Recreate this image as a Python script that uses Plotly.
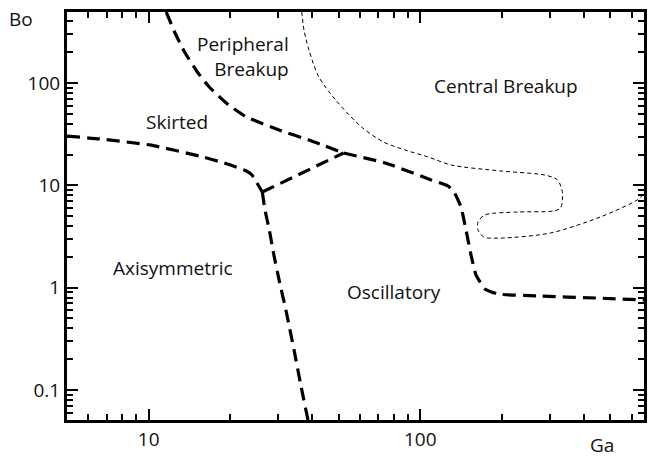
import math
import plotly.graph_objects as go

# Regime boundaries (Ga, Bo)
skirt_axi_ga = [5.0, 6.6, 10.1, 15.4, 19.0, 22.9, 24.0, 26.2]
skirt_axi_bo = [30.3, 28.4, 24.8, 19.3, 16.5, 13.8, 12.6, 8.6]

axi_osc_ga = [26.2, 26.8, 27.8, 28.9, 30.2, 32.0, 34.3, 36.3, 38.6]
axi_osc_bo = [8.6, 5.74, 3.66, 2.08, 1.19, 0.604, 0.245, 0.112, 0.0508]

skirt_osc_ga = [26.2, 52.2]
skirt_osc_bo = [8.6, 20.7]

periph_skirt_ga = [11.6, 12.45, 13.55, 15.1, 16.7, 19.5, 22.9, 30.2, 38.9, 52.2]
periph_skirt_bo = [494, 315, 201, 128, 91.4, 62.3, 46.5, 34.7, 27.7, 20.7]

periph_osc_ga = [52.2, 74.4, 109.7, 126.6, 133.2, 141.3, 147.4, 153.8, 160.4, 173.0, 193.1, 270.5, 448.7, 667]
periph_osc_bo = [20.7, 16.5, 11.3, 9.84, 8.6, 6.14, 3.66, 2.08, 1.33, 0.969, 0.866, 0.828, 0.791, 0.757]

central_ga = [36.6, 37.3, 38.9, 42.3, 48.8, 60.8, 73.2, 88.1, 107.0, 129.9, 198.1, 287.1, 320.3,
              334.1, 328.5, 309.6, 228.6, 173.0, 163.2, 163.2, 171.6, 198.1, 301.9, 460.3, 628.8, 672.6]
central_bo = [494, 330, 210, 114.5, 68.2, 37.1, 26.5, 22.1, 18.9, 15.8, 13.8, 12.6, 11.3,
              8.41, 6.0, 5.61, 5.48, 5.13, 4.38, 3.66, 3.12, 3.05, 3.42, 4.90, 7.18, 8.41]

region_labels = ["Peripheral<br>Breakup", "Central Breakup", "Skirted", "Axisymmetric", "Oscillatory"]
region_ga = [33.4, 206.5, 12.67, 12.24, 80.3]
region_bo = [179.6, 93.5, 41.6, 1.555, 0.906]
region_anchor = ["right", "center", "center", "center", "center"]

x_major = [10, 100]
x_minor = [6, 7, 8, 9, 20, 30, 40, 50, 60, 70, 80, 90, 200, 300, 400, 500, 600]
y_major = [0.1, 1, 10, 100]
y_minor = [0.06, 0.07, 0.08, 0.09, 0.2, 0.3, 0.4, 0.5, 0.6, 0.7, 0.8, 0.9,
           2, 3, 4, 5, 6, 7, 8, 9, 20, 30, 40, 50, 60, 70, 80, 90, 200, 300, 400]

FONT = "Open Sans"
fig = go.Figure()

thick = dict(color="black", width=3.2, dash="13px,7px")
for gx, by in [(skirt_axi_ga, skirt_axi_bo), (axi_osc_ga, axi_osc_bo), (skirt_osc_ga, skirt_osc_bo),
               (periph_skirt_ga, periph_skirt_bo), (periph_osc_ga, periph_osc_bo)]:
    fig.add_trace(go.Scatter(x=gx, y=by, mode="lines", line=dict(**thick, shape="spline", smoothing=0.4),
                             showlegend=False, hoverinfo="skip"))

fig.add_trace(go.Scatter(x=central_ga, y=central_bo, mode="lines",
                         line=dict(color="black", width=1, dash="4px,3px", shape="spline", smoothing=0.8),
                         showlegend=False, hoverinfo="skip"))

for t, gx, by, a in zip(region_labels, region_ga, region_bo, region_anchor):
    fig.add_annotation(x=math.log10(gx), y=math.log10(by), xref="x", yref="y", text=t, showarrow=False,
                       xanchor=a, yanchor="middle", align="right",
                       font=dict(family=FONT, size=19, color="#111"))

fig.add_annotation(x=-0.079, y=0.983, xref="paper", yref="paper", text="Bo", showarrow=False,
                   xanchor="center", yanchor="middle", font=dict(family=FONT, size=19, color="#111"))
fig.add_annotation(x=0.928, y=-0.061, xref="paper", yref="paper", text="Ga", showarrow=False,
                   xanchor="center", yanchor="middle", borderpad=0,
                   font=dict(family=FONT, size=19, color="#111"))

axis_common = dict(showline=True, linecolor="black", linewidth=3, mirror="ticks", ticks="inside",
                   ticklen=11, tickwidth=2, tickcolor="black", showgrid=False, zeroline=False,
                   tickfont=dict(family=FONT, size=19, color="#111"))

fig.update_xaxes(type="log", range=[0.699, 2.824], tickvals=x_major, ticktext=[str(v) for v in x_major],
                 minor=dict(ticks="inside", ticklen=6, tickwidth=1.5, tickcolor="black", tickvals=x_minor),
                 **axis_common)
fig.update_yaxes(type="log", range=[-1.294, 2.694], tickvals=y_major, ticktext=["0.1", "1", "10", "100"],
                 minor=dict(ticks="inside", ticklen=6, tickwidth=1.5, tickcolor="black", tickvals=y_minor),
                 **axis_common)

fig.update_layout(width=649, height=458, margin=dict(l=67, r=2, t=12, b=38),
                  plot_bgcolor="white", paper_bgcolor="white", font=dict(family=FONT))

fig.write_html("out.html")
